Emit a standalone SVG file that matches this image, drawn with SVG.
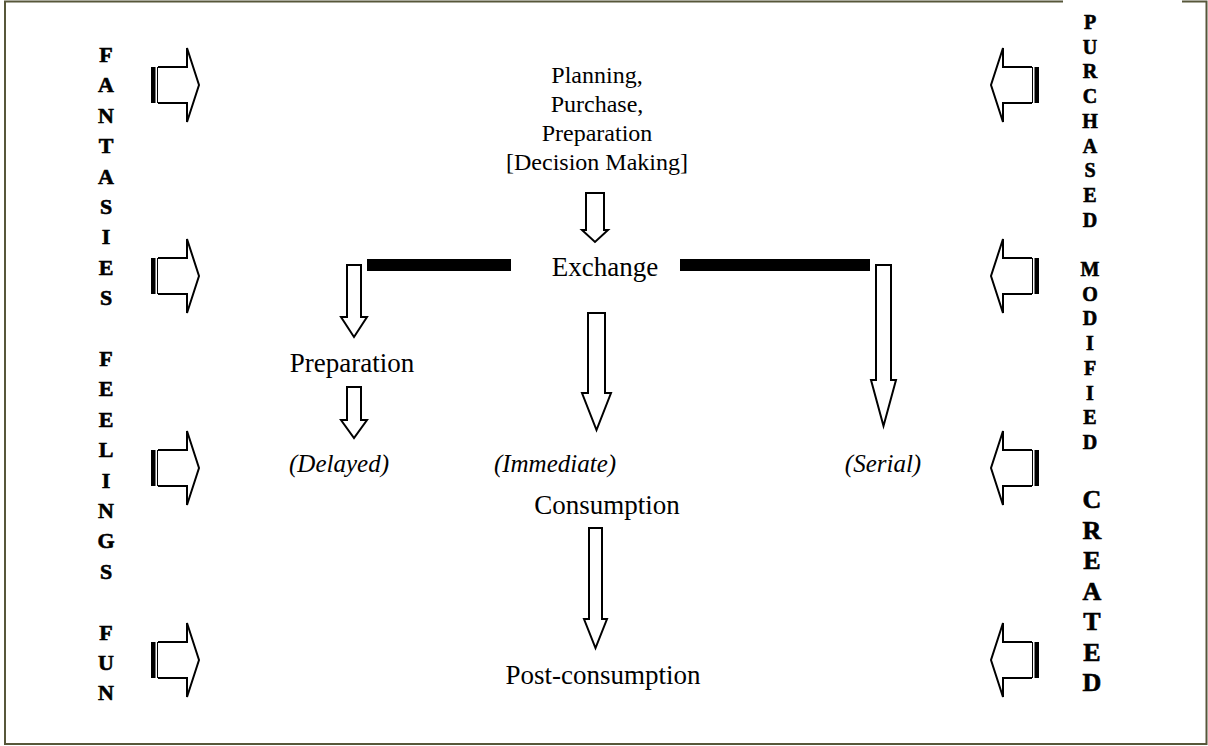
<svg xmlns="http://www.w3.org/2000/svg" width="1208" height="746" viewBox="0 0 1208 746">
<defs>
<style>
.lbl{font-family:"Liberation Serif","Times New Roman",serif;font-size:27px;fill:#000;text-anchor:middle}
.pl{font-size:24px}
.it{font-style:italic;font-size:25px}
.v{font-family:"Liberation Serif","Times New Roman",serif;font-weight:bold;fill:#000;stroke:#000;stroke-width:0.6;text-anchor:middle}
.vl{font-size:22px}
.vr{font-size:20px}
.vr2{font-size:26px}
.blk{fill:#fff;stroke:#000;stroke-width:2;stroke-linejoin:miter}
.bar{fill:#000}
</style>
<g id="sideArrow">
<rect x="151" y="-18" width="4.5" height="36" fill="#000"/>
<line x1="158" y1="-18" x2="158" y2="18" stroke="#000" stroke-width="2"/>
<path class="blk" d="M158,-18 H187 V-37 L199,0 L187,37 V18 H158"/>
</g>
</defs>
<rect width="1208" height="746" fill="#fff"/>
<path d="M1063,1.5 H5 V744 H1206.5 V1.5 H1182" fill="none" stroke="#57573a" stroke-width="2"/>

<g id="left-arrows">
<use href="#sideArrow" y="85"/>
<use href="#sideArrow" y="276"/>
<use href="#sideArrow" y="468"/>
<use href="#sideArrow" y="660"/>
</g>
<g id="right-arrows" transform="translate(1190,0) scale(-1,1)">
<use href="#sideArrow" y="85"/>
<use href="#sideArrow" y="276"/>
<use href="#sideArrow" y="468"/>
<use href="#sideArrow" y="660"/>
</g>

<g id="left-words" class="v vl">
<text x="106" y="62">F</text>
<text x="106" y="92.4">A</text>
<text x="106" y="122.8">N</text>
<text x="106" y="153.2">T</text>
<text x="106" y="183.6">A</text>
<text x="106" y="214">S</text>
<text x="106" y="244.4">I</text>
<text x="106" y="274.8">E</text>
<text x="106" y="305.2">S</text>
<text x="106" y="366">F</text>
<text x="106" y="396.4">E</text>
<text x="106" y="426.8">E</text>
<text x="106" y="457.2">L</text>
<text x="106" y="487.6">I</text>
<text x="106" y="518">N</text>
<text x="106" y="548.4">G</text>
<text x="106" y="578.8">S</text>
<text x="106" y="639.6">F</text>
<text x="106" y="670">U</text>
<text x="106" y="700.4">N</text>
</g>

<g id="right-words" class="v">
<g class="vr">
<text x="1090" y="29">P</text>
<text x="1090" y="53.7">U</text>
<text x="1090" y="78.4">R</text>
<text x="1090" y="103.1">C</text>
<text x="1090" y="127.8">H</text>
<text x="1090" y="152.5">A</text>
<text x="1090" y="177.2">S</text>
<text x="1090" y="201.9">E</text>
<text x="1090" y="226.6">D</text>
<text x="1090" y="276">M</text>
<text x="1090" y="300.7">O</text>
<text x="1090" y="325.4">D</text>
<text x="1090" y="350.1">I</text>
<text x="1090" y="374.8">F</text>
<text x="1090" y="399.5">I</text>
<text x="1090" y="424.2">E</text>
<text x="1090" y="448.9">D</text>
</g>
<g class="vr2">
<text x="1092" y="508">C</text>
<text x="1092" y="538.5">R</text>
<text x="1092" y="569">E</text>
<text x="1092" y="599.5">A</text>
<text x="1092" y="630">T</text>
<text x="1092" y="660.5">E</text>
<text x="1092" y="691">D</text>
</g>
</g>

<g id="planning">
<text class="lbl pl" x="597" y="83">Planning,</text>
<text class="lbl pl" x="597" y="112">Purchase,</text>
<text class="lbl pl" x="597" y="141">Preparation</text>
<text class="lbl pl" x="597" y="170">[Decision Making]</text>
</g>
<g id="exchange"><text class="lbl" x="605" y="276">Exchange</text></g>
<g id="preparation"><text class="lbl" x="352" y="372">Preparation</text></g>
<g id="delayed"><text class="lbl it" x="339" y="472">(Delayed)</text></g>
<g id="immediate"><text class="lbl it" x="555" y="472">(Immediate)</text></g>
<g id="serial"><text class="lbl it" x="883" y="472">(Serial)</text></g>
<g id="consumption"><text class="lbl" x="607" y="514">Consumption</text></g>
<g id="post"><text class="lbl" x="603" y="684">Post-consumption</text></g>

<g id="connectors">
<rect class="bar" x="367" y="259" width="144" height="12"/>
<rect class="bar" x="680" y="259" width="190" height="12"/>
<path class="blk" d="M586,193 H604 V230 H608 L595,242 L582,230 H586 Z"/>
<path class="blk" d="M347,265 H361 V317 H367 L354,337 L341,317 H347 Z"/>
<path class="blk" d="M347,387 H361 V420 H367 L354,438 L341,420 H347 Z"/>
<path class="blk" d="M588,313 H605 V393 H611 L596.5,430 L582,393 H588 Z"/>
<path class="blk" d="M876,265 H891 V380 H896 L883.5,426 L871,380 H876 Z"/>
<path class="blk" d="M589,528 H602 V619 H607 L595.5,648 L584,619 H589 Z"/>
</g>
</svg>
